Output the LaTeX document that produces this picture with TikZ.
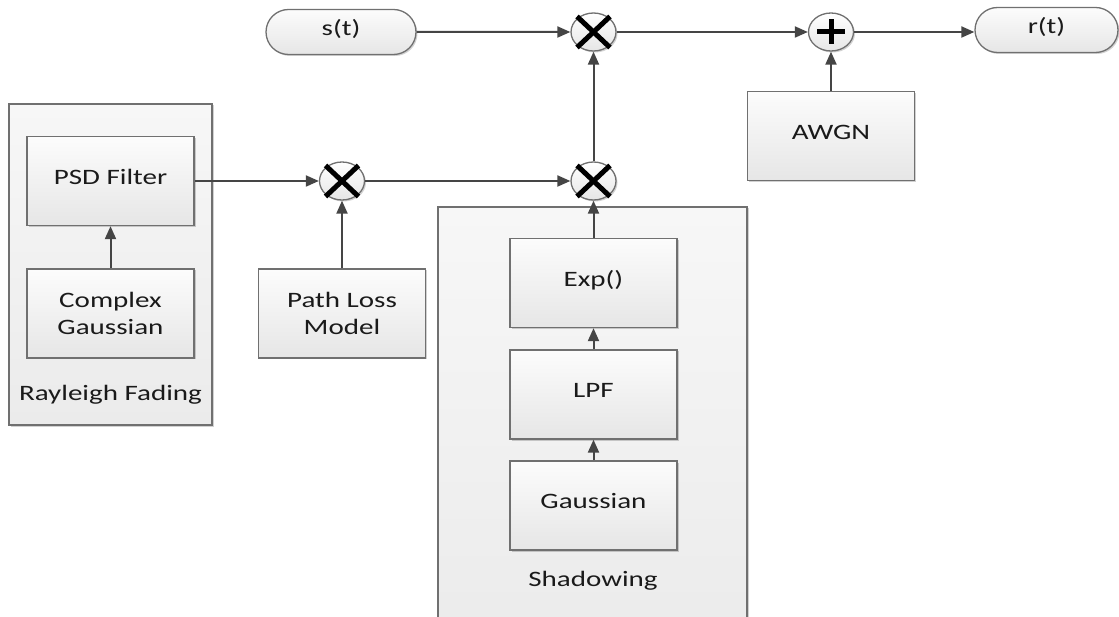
\documentclass[tikz,border=0pt]{standalone}
\usepackage{fontspec}
\setmainfont{Carlito}[FakeStretch=1.32]
\usetikzlibrary{shapes.misc,shapes.geometric,arrows.meta,shadows}

\definecolor{edgecol}{HTML}{707070}
\definecolor{wirecol}{HTML}{454545}
\definecolor{ink}{HTML}{1A1A1A}
\definecolor{boxtop}{HTML}{FCFCFC}
\definecolor{boxbot}{HTML}{E6E6E6}
\definecolor{grptop}{HTML}{F7F7F7}
\definecolor{grpbot}{HTML}{EBEBEB}

\tikzset{
  soft shadow/.style={drop shadow={shadow xshift=1.5pt,shadow yshift=-1.5pt,fill=black,opacity=0.18}},
  group/.style={draw=edgecol, line width=1.3pt, top color=grptop, bottom color=grpbot,
                soft shadow, inner sep=0pt},
  oneline/.style={text height=0.63em, text depth=0pt},
  block/.style={draw=edgecol, line width=1.3pt, top color=boxtop, bottom color=boxbot,
                soft shadow, minimum width=167pt, minimum height=89pt, inner sep=0pt,
                text=ink, align=center},
  terminal/.style={rounded rectangle, draw=edgecol, line width=1.3pt, top color=boxtop,
                bottom color=boxbot, soft shadow, minimum height=45pt, inner sep=0pt,
                text=ink, oneline},
  junction/.style={ellipse, draw=edgecol, line width=1.3pt, top color=white,
                bottom color=boxbot, soft shadow, minimum width=45pt, minimum height=38pt,
                inner sep=0pt},
  glyph/.style={draw=black, line width=5pt},
  wire/.style={draw=wirecol, line width=2pt, -{Triangle[length=13pt,width=11pt]}},
  caption/.style={text=ink, oneline, inner sep=0pt},
}

\begin{document}
\begin{tikzpicture}[x=1pt, y=-1pt, font=\fontsize{22}{27}\selectfont]
  \useasboundingbox (0,0) rectangle (1119,617);
  \clip (0,0) rectangle (1119,617);

  % grouping panels
  \node[group, minimum width=203pt, minimum height=321pt] (rayleigh) at (110.5,264.5) {};
  \node[caption] (rayleighlbl) at (110.5,397.5) {Rayleigh Fading};
  \node[group, minimum width=309pt, minimum height=440pt] (shadow) at (592.5,427) {};
  \node[caption] (shadowlbl) at (593,583.5) {Shadowing};

  % processing blocks
  \node[block, oneline] (psd)   at (110.5,181)   {PSD Filter};
  \node[block]          (cgau)  at (110.5,313.5) {Complex\\Gaussian};
  \node[block]          (ploss) at (342,313.5)   {Path Loss\\Model};
  \node[block, oneline] (expb)  at (593.5,283)   {Exp()};
  \node[block, oneline] (lpf)   at (593.5,394.5) {LPF};
  \node[block, oneline] (gaus)  at (593.5,505.5) {Gaussian};
  \node[block, oneline] (awgn)  at (831,136)     {AWGN};

  % signal terminals
  \node[terminal, minimum width=150pt] (st) at (341,32)    {s(t)};
  \node[terminal, minimum width=143pt] (rt) at (1046.5,30) {r(t)};

  % multipliers and adder
  \node[junction] (mtop) at (593.5,32) {};
  \node[junction] (madd) at (831,32)   {};
  \node[junction] (mpl)  at (342,181)  {};
  \node[junction] (msh)  at (593.5,181) {};

  \foreach \m in {mtop,mpl,msh}{
    \draw[glyph] ([shift={(-16.5,-15.5)}]\m.center) -- ([shift={(16.5,15.5)}]\m.center);
    \draw[glyph] ([shift={(-16.5,15.5)}]\m.center) -- ([shift={(16.5,-15.5)}]\m.center);
  }
  \draw[glyph] ([shift={(-14,0)}]madd.center) -- ([shift={(14,0)}]madd.center);
  \draw[glyph] ([shift={(0,-12.5)}]madd.center) -- ([shift={(0,12.5)}]madd.center);

  % connections
  \draw[wire] (cgau) -- (psd);
  \draw[wire] (psd) -- (mpl);
  \draw[wire] (ploss) -- (mpl);
  \draw[wire] (mpl) -- (msh);
  \draw[wire] (gaus) -- (lpf);
  \draw[wire] (lpf) -- (expb);
  \draw[wire] (expb) -- (msh);
  \draw[wire] (msh) -- (mtop);
  \draw[wire] (st) -- (mtop);
  \draw[wire] (mtop) -- (madd);
  \draw[wire] (awgn) -- (madd);
  \draw[wire] (madd) -- (madd -| rt.west);
\end{tikzpicture}
\end{document}
